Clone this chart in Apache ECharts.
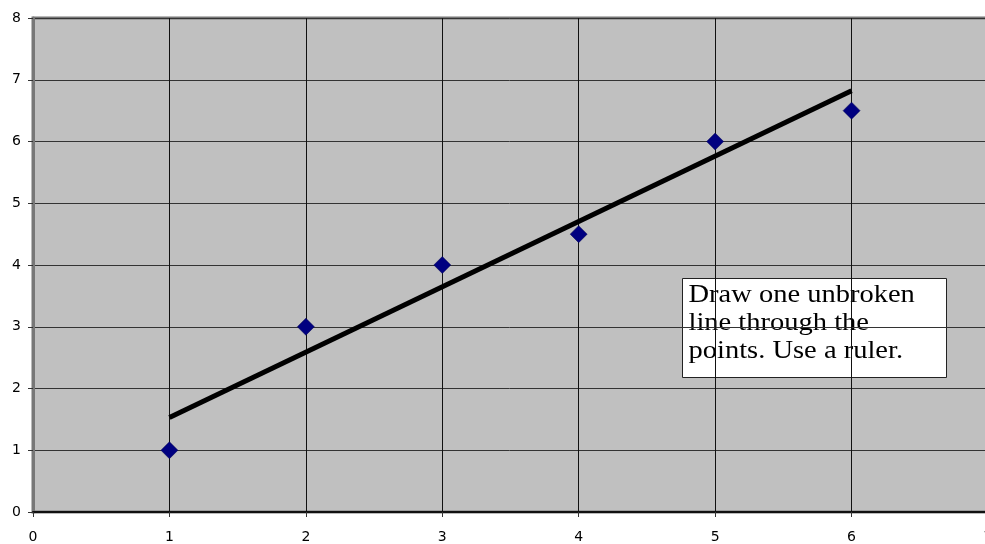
<!DOCTYPE html>
<html><head><meta charset="utf-8">
<script src="https://cdn.jsdelivr.net/npm/echarts@6/dist/echarts.min.js"></script>
<style>html,body{margin:0;padding:0;background:#fff}#c{width:985px;height:544px}</style>
</head><body><div id="c"></div>
<script>
const xValues = [1, 2, 3, 4, 5, 6];
const yValues = [1, 3, 4, 4.5, 6, 6.5];
const trendX = [1, 6];
const trendY = [1.53, 6.82];
const noteLines = ['Draw one unbroken', 'line through the', 'points. Use a ruler.'];

const chart = echarts.init(document.getElementById('c'));
const axisLabel = {color: '#000', fontFamily: 'DejaVu Sans', fontSize: 14};
chart.setOption({
  animation: false,
  grid: {left: 33, width: 955, top: 18, height: 494, show: true, backgroundColor: '#c0c0c0', borderWidth: 3, borderColor: '#777',
         containLabel: false, outerBoundsMode: 'none'},
  xAxis: {type: 'value', min: 0, max: 7, interval: 1,
    axisLine: {onZero: false, lineStyle: {color: '#111', width: 2}},
    axisTick: {show: true, length: 5, lineStyle: {color: '#333'}},
    axisLabel: Object.assign({margin: 18}, axisLabel),
    splitLine: {show: true, lineStyle: {color: '#111', width: 1}}},
  yAxis: {type: 'value', min: 0, max: 8, interval: 1,
    axisLine: {show: true, lineStyle: {color: '#777', width: 3}},
    axisTick: {show: true, length: 5, lineStyle: {color: '#333'}},
    axisLabel: Object.assign({margin: 12}, axisLabel),
    splitLine: {show: true, lineStyle: {color: '#333', width: 1}}},
  series: [
    {type: 'line', data: trendX.map((x, i) => [x, trendY[i]]), symbol: 'none',
     lineStyle: {color: '#000', width: 5}, z: 3},
    {type: 'scatter', data: xValues.map((x, i) => [x, yValues[i]]), symbol: 'diamond',
     symbolSize: 17, itemStyle: {color: '#000080', opacity: 1, borderColor: '#000050', borderWidth: 0.5}, z: 4}
  ],
  graphic: [{
    type: 'group', left: 682, top: 278, children: [
      {type: 'rect', shape: {x: 0, y: 0, width: 264, height: 99}, style: {fill: '#fff', stroke: '#222', lineWidth: 1}},
      {type: 'text', x: 6, y: 3, scaleX: 1.14, style: {text: noteLines.join('\n'), font: '25px "Liberation Serif"', lineHeight: 28, fill: '#000'}}
    ]
  }]
});
</script></body></html>
